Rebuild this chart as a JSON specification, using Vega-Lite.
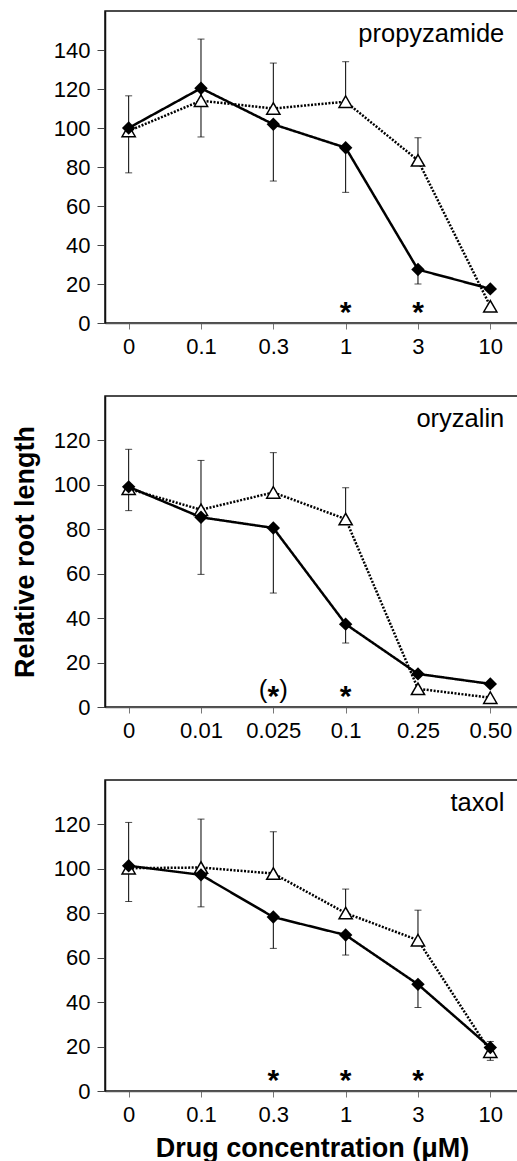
{
  "$schema": "https://vega.github.io/schema/vega-lite/v6.json",
  "padding": {"left": 10, "top": 10, "right": 0, "bottom": 0},
  "background": "white",
  "spacing": 37,
  "config": {
    "view": {"stroke": "#111", "strokeWidth": 1.5},
    "font": "Liberation Sans",
    "axis": {"grid": false, "labelFont": "Liberation Sans", "labelFontSize": 22, "labelColor": "black", "titleFont": "Liberation Sans", "titleFontSize": 27, "titleFontWeight": "bold", "titleColor": "black"},
    "axisX": {"tickSize": 6, "labelPadding": 7, "tickColor": "#777", "domainColor": "#555", "domainWidth": 1.5, "labelAngle": 0, "titlePadding": 10, "labelFontSize": 22},
    "axisY": {"tickSize": 8, "labelPadding": 7, "tickColor": "#444", "domainColor": "#111", "domainWidth": 1.5, "titlePadding": 14, "labelFontSize": 22}
  },
  "datasets": {
    "pts": [
      {"drug": "propyzamide", "conc": "0", "i": 0, "series": "diamond", "value": 100, "err": 77},
      {"drug": "propyzamide", "conc": "0.1", "i": 1, "series": "diamond", "value": 120.4, "err": 95.4},
      {"drug": "propyzamide", "conc": "0.3", "i": 2, "series": "diamond", "value": 101.9, "err": 72.8},
      {"drug": "propyzamide", "conc": "1", "i": 3, "series": "diamond", "value": 89.9, "err": 67},
      {"drug": "propyzamide", "conc": "3", "i": 4, "series": "diamond", "value": 27.4, "err": 20},
      {"drug": "propyzamide", "conc": "10", "i": 5, "series": "diamond", "value": 17.5, "err": null},
      {"drug": "propyzamide", "conc": "0", "i": 0, "series": "triangle", "value": 98.5, "err": 116.5},
      {"drug": "propyzamide", "conc": "0.1", "i": 1, "series": "triangle", "value": 114, "err": 145.6},
      {"drug": "propyzamide", "conc": "0.3", "i": 2, "series": "triangle", "value": 110, "err": 133.3},
      {"drug": "propyzamide", "conc": "1", "i": 3, "series": "triangle", "value": 113.5, "err": 134},
      {"drug": "propyzamide", "conc": "3", "i": 4, "series": "triangle", "value": 83.4, "err": 95},
      {"drug": "propyzamide", "conc": "10", "i": 5, "series": "triangle", "value": 8.6, "err": null},
      {"drug": "oryzalin", "conc": "0", "i": 0, "series": "diamond", "value": 99.1, "err": 88.4},
      {"drug": "oryzalin", "conc": "0.01", "i": 1, "series": "diamond", "value": 85.4, "err": 59.7},
      {"drug": "oryzalin", "conc": "0.025", "i": 2, "series": "diamond", "value": 80.6, "err": 51.3},
      {"drug": "oryzalin", "conc": "0.1", "i": 3, "series": "diamond", "value": 37.3, "err": 28.8},
      {"drug": "oryzalin", "conc": "0.25", "i": 4, "series": "diamond", "value": 14.9, "err": null},
      {"drug": "oryzalin", "conc": "0.50", "i": 5, "series": "diamond", "value": 10.4, "err": null},
      {"drug": "oryzalin", "conc": "0", "i": 0, "series": "triangle", "value": 98.2, "err": 116},
      {"drug": "oryzalin", "conc": "0.01", "i": 1, "series": "triangle", "value": 88.8, "err": 111},
      {"drug": "oryzalin", "conc": "0.025", "i": 2, "series": "triangle", "value": 96.6, "err": 114.5},
      {"drug": "oryzalin", "conc": "0.1", "i": 3, "series": "triangle", "value": 84.6, "err": 98.7},
      {"drug": "oryzalin", "conc": "0.25", "i": 4, "series": "triangle", "value": 8.2, "err": null},
      {"drug": "oryzalin", "conc": "0.50", "i": 5, "series": "triangle", "value": 4.2, "err": null},
      {"drug": "taxol", "conc": "0", "i": 0, "series": "diamond", "value": 101.4, "err": 85.3},
      {"drug": "taxol", "conc": "0.1", "i": 1, "series": "diamond", "value": 97.3, "err": 82.9},
      {"drug": "taxol", "conc": "0.3", "i": 2, "series": "diamond", "value": 78.3, "err": 64.2},
      {"drug": "taxol", "conc": "1", "i": 3, "series": "diamond", "value": 70.2, "err": 61.2},
      {"drug": "taxol", "conc": "3", "i": 4, "series": "diamond", "value": 48, "err": 37.6},
      {"drug": "taxol", "conc": "10", "i": 5, "series": "diamond", "value": 19.6, "err": 22.3},
      {"drug": "taxol", "conc": "0", "i": 0, "series": "triangle", "value": 100.3, "err": 120.9},
      {"drug": "taxol", "conc": "0.1", "i": 1, "series": "triangle", "value": 100.6, "err": 122.4},
      {"drug": "taxol", "conc": "0.3", "i": 2, "series": "triangle", "value": 97.9, "err": 116.7},
      {"drug": "taxol", "conc": "1", "i": 3, "series": "triangle", "value": 80.1, "err": 90.9},
      {"drug": "taxol", "conc": "3", "i": 4, "series": "triangle", "value": 67.9, "err": 81.4},
      {"drug": "taxol", "conc": "10", "i": 5, "series": "triangle", "value": 17.7, "err": 13.8}
    ],
    "sig": [
      {"drug": "propyzamide", "conc": "1", "sig": "*"},
      {"drug": "propyzamide", "conc": "3", "sig": "*"},
      {"drug": "oryzalin", "conc": "0.025", "sig": "(*)"},
      {"drug": "oryzalin", "conc": "0.1", "sig": "*"},
      {"drug": "taxol", "conc": "0.3", "sig": "*"},
      {"drug": "taxol", "conc": "1", "sig": "*"},
      {"drug": "taxol", "conc": "3", "sig": "*"}
    ],
    "drugs": [
      {"drug": "propyzamide"},
      {"drug": "oryzalin"},
      {"drug": "taxol"}
    ]
  },
  "vconcat": [
    {
      "width": 414, "height": 312,
      "layer": [
        {"data": {"name": "pts"}, "transform": [{"filter": "datum.drug == 'propyzamide' && datum.err != null"}],
         "mark": {"type": "rule", "color": "black", "strokeWidth": 1},
         "encoding": {
           "x": {"field": "conc", "type": "ordinal", "scale": {"type": "point", "domain": ["0", "0.1", "0.3", "1", "3", "10"], "padding": 0.362, "align": 0.452}, "axis": {"title": null}},
           "y": {"field": "value", "type": "quantitative", "scale": {"domain": [0, 160], "nice": false}, "axis": {"values": [0, 20, 40, 60, 80, 100, 120, 140], "title": null}},
           "y2": {"field": "err"}}},
        {"data": {"name": "pts"}, "transform": [{"filter": "datum.drug == 'propyzamide' && datum.err != null"}],
         "mark": {"type": "tick", "color": "black", "thickness": 1, "size": 7},
         "encoding": {"x": {"field": "conc", "type": "ordinal"}, "y": {"field": "err", "type": "quantitative"}}},
        {"data": {"name": "pts"}, "transform": [{"filter": "datum.drug == 'propyzamide'"}],
         "mark": {"type": "line", "color": "black", "strokeWidth": 2.5},
         "encoding": {"x": {"field": "conc", "type": "ordinal"}, "y": {"field": "value", "type": "quantitative"}, "order": {"field": "i"},
           "strokeDash": {"field": "series", "type": "nominal", "scale": {"domain": ["diamond", "triangle"], "range": [[1, 0], [2, 1.5]]}, "legend": null}}},
        {"data": {"name": "pts"}, "transform": [{"filter": "datum.drug == 'propyzamide' && datum.series == 'triangle'"}],
         "mark": {"type": "point", "shape": "triangle-up", "filled": true, "fill": "white", "stroke": "black", "strokeWidth": 1.5, "size": 175, "opacity": 1},
         "encoding": {"x": {"field": "conc", "type": "ordinal"}, "y": {"field": "value", "type": "quantitative"}}},
        {"data": {"name": "pts"}, "transform": [{"filter": "datum.drug == 'propyzamide' && datum.series == 'diamond'"}],
         "mark": {"type": "point", "shape": "diamond", "filled": true, "fill": "black", "size": 180, "opacity": 1},
         "encoding": {"x": {"field": "conc", "type": "ordinal"}, "y": {"field": "value", "type": "quantitative"}}},
        {"data": {"name": "sig"}, "transform": [{"filter": "datum.drug == 'propyzamide'"}],
         "mark": {"type": "text", "text": "*", "font": "Liberation Sans", "fontWeight": "bold", "fontSize": 30, "baseline": "alphabetic", "dy": -1, "color": "black"},
         "encoding": {"x": {"field": "conc", "type": "ordinal"}, "y": {"datum": 0}}},
        {"data": {"name": "drugs"}, "transform": [{"filter": "datum.drug == 'propyzamide'"}],
         "mark": {"type": "text", "font": "Liberation Sans", "fontSize": 25.5, "align": "right", "baseline": "alphabetic", "dx": 14, "color": "black"},
         "encoding": {"x": {"datum": "10"}, "y": {"datum": 144}, "text": {"field": "drug"}}}
      ]
    },
    {
      "width": 414, "height": 311,
      "layer": [
        {"data": {"name": "pts"}, "transform": [{"filter": "datum.drug == 'oryzalin' && datum.err != null"}],
         "mark": {"type": "rule", "color": "black", "strokeWidth": 1},
         "encoding": {
           "x": {"field": "conc", "type": "ordinal", "scale": {"type": "point", "domain": ["0", "0.01", "0.025", "0.1", "0.25", "0.50"], "padding": 0.362, "align": 0.452}, "axis": {"title": null}},
           "y": {"field": "value", "type": "quantitative", "scale": {"domain": [0, 140], "nice": false}, "axis": {"values": [0, 20, 40, 60, 80, 100, 120], "title": "Relative root length"}},
           "y2": {"field": "err"}}},
        {"data": {"name": "pts"}, "transform": [{"filter": "datum.drug == 'oryzalin' && datum.err != null"}],
         "mark": {"type": "tick", "color": "black", "thickness": 1, "size": 7},
         "encoding": {"x": {"field": "conc", "type": "ordinal"}, "y": {"field": "err", "type": "quantitative"}}},
        {"data": {"name": "pts"}, "transform": [{"filter": "datum.drug == 'oryzalin'"}],
         "mark": {"type": "line", "color": "black", "strokeWidth": 2.5},
         "encoding": {"x": {"field": "conc", "type": "ordinal"}, "y": {"field": "value", "type": "quantitative"}, "order": {"field": "i"},
           "strokeDash": {"field": "series", "type": "nominal", "scale": {"domain": ["diamond", "triangle"], "range": [[1, 0], [2, 1.5]]}, "legend": null}}},
        {"data": {"name": "pts"}, "transform": [{"filter": "datum.drug == 'oryzalin' && datum.series == 'triangle'"}],
         "mark": {"type": "point", "shape": "triangle-up", "filled": true, "fill": "white", "stroke": "black", "strokeWidth": 1.5, "size": 175, "opacity": 1},
         "encoding": {"x": {"field": "conc", "type": "ordinal"}, "y": {"field": "value", "type": "quantitative"}}},
        {"data": {"name": "pts"}, "transform": [{"filter": "datum.drug == 'oryzalin' && datum.series == 'diamond'"}],
         "mark": {"type": "point", "shape": "diamond", "filled": true, "fill": "black", "size": 180, "opacity": 1},
         "encoding": {"x": {"field": "conc", "type": "ordinal"}, "y": {"field": "value", "type": "quantitative"}}},
        {"data": {"name": "sig"}, "transform": [{"filter": "datum.drug == 'oryzalin'"}],
         "mark": {"type": "text", "text": "*", "font": "Liberation Sans", "fontWeight": "bold", "fontSize": 30, "baseline": "alphabetic", "dy": -1, "color": "black"},
         "encoding": {"x": {"field": "conc", "type": "ordinal"}, "y": {"datum": 0}}},
        {"data": {"name": "sig"}, "transform": [{"filter": "datum.drug == 'oryzalin' && datum.sig == '(*)'"}],
         "mark": {"type": "text", "text": "(", "font": "Liberation Sans", "fontSize": 26, "align": "right", "baseline": "alphabetic", "dx": -6, "dy": -9, "color": "black"},
         "encoding": {"x": {"field": "conc", "type": "ordinal"}, "y": {"datum": 0}}},
        {"data": {"name": "sig"}, "transform": [{"filter": "datum.drug == 'oryzalin' && datum.sig == '(*)'"}],
         "mark": {"type": "text", "text": ")", "font": "Liberation Sans", "fontSize": 26, "align": "left", "baseline": "alphabetic", "dx": 6, "dy": -9, "color": "black"},
         "encoding": {"x": {"field": "conc", "type": "ordinal"}, "y": {"datum": 0}}},
        {"data": {"name": "drugs"}, "transform": [{"filter": "datum.drug == 'oryzalin'"}],
         "mark": {"type": "text", "font": "Liberation Sans", "fontSize": 25.5, "align": "right", "baseline": "alphabetic", "dx": 14, "color": "black"},
         "encoding": {"x": {"datum": "0.50"}, "y": {"datum": 126}, "text": {"field": "drug"}}}
      ]
    },
    {
      "width": 414, "height": 311,
      "layer": [
        {"data": {"name": "pts"}, "transform": [{"filter": "datum.drug == 'taxol' && datum.err != null"}],
         "mark": {"type": "rule", "color": "black", "strokeWidth": 1},
         "encoding": {
           "x": {"field": "conc", "type": "ordinal", "scale": {"type": "point", "domain": ["0", "0.1", "0.3", "1", "3", "10"], "padding": 0.362, "align": 0.452}, "axis": {"title": "Drug concentration (μM)"}},
           "y": {"field": "value", "type": "quantitative", "scale": {"domain": [0, 140], "nice": false}, "axis": {"values": [0, 20, 40, 60, 80, 100, 120], "title": null}},
           "y2": {"field": "err"}}},
        {"data": {"name": "pts"}, "transform": [{"filter": "datum.drug == 'taxol' && datum.err != null"}],
         "mark": {"type": "tick", "color": "black", "thickness": 1, "size": 7},
         "encoding": {"x": {"field": "conc", "type": "ordinal"}, "y": {"field": "err", "type": "quantitative"}}},
        {"data": {"name": "pts"}, "transform": [{"filter": "datum.drug == 'taxol'"}],
         "mark": {"type": "line", "color": "black", "strokeWidth": 2.5},
         "encoding": {"x": {"field": "conc", "type": "ordinal"}, "y": {"field": "value", "type": "quantitative"}, "order": {"field": "i"},
           "strokeDash": {"field": "series", "type": "nominal", "scale": {"domain": ["diamond", "triangle"], "range": [[1, 0], [2, 1.5]]}, "legend": null}}},
        {"data": {"name": "pts"}, "transform": [{"filter": "datum.drug == 'taxol' && datum.series == 'triangle'"}],
         "mark": {"type": "point", "shape": "triangle-up", "filled": true, "fill": "white", "stroke": "black", "strokeWidth": 1.5, "size": 175, "opacity": 1},
         "encoding": {"x": {"field": "conc", "type": "ordinal"}, "y": {"field": "value", "type": "quantitative"}}},
        {"data": {"name": "pts"}, "transform": [{"filter": "datum.drug == 'taxol' && datum.series == 'diamond'"}],
         "mark": {"type": "point", "shape": "diamond", "filled": true, "fill": "black", "size": 180, "opacity": 1},
         "encoding": {"x": {"field": "conc", "type": "ordinal"}, "y": {"field": "value", "type": "quantitative"}}},
        {"data": {"name": "sig"}, "transform": [{"filter": "datum.drug == 'taxol'"}],
         "mark": {"type": "text", "text": "*", "font": "Liberation Sans", "fontWeight": "bold", "fontSize": 30, "baseline": "alphabetic", "dy": -1, "color": "black"},
         "encoding": {"x": {"field": "conc", "type": "ordinal"}, "y": {"datum": 0}}},
        {"data": {"name": "drugs"}, "transform": [{"filter": "datum.drug == 'taxol'"}],
         "mark": {"type": "text", "font": "Liberation Sans", "fontSize": 25.5, "align": "right", "baseline": "alphabetic", "dx": 14, "color": "black"},
         "encoding": {"x": {"datum": "10"}, "y": {"datum": 126}, "text": {"field": "drug"}}}
      ]
    }
  ]
}
